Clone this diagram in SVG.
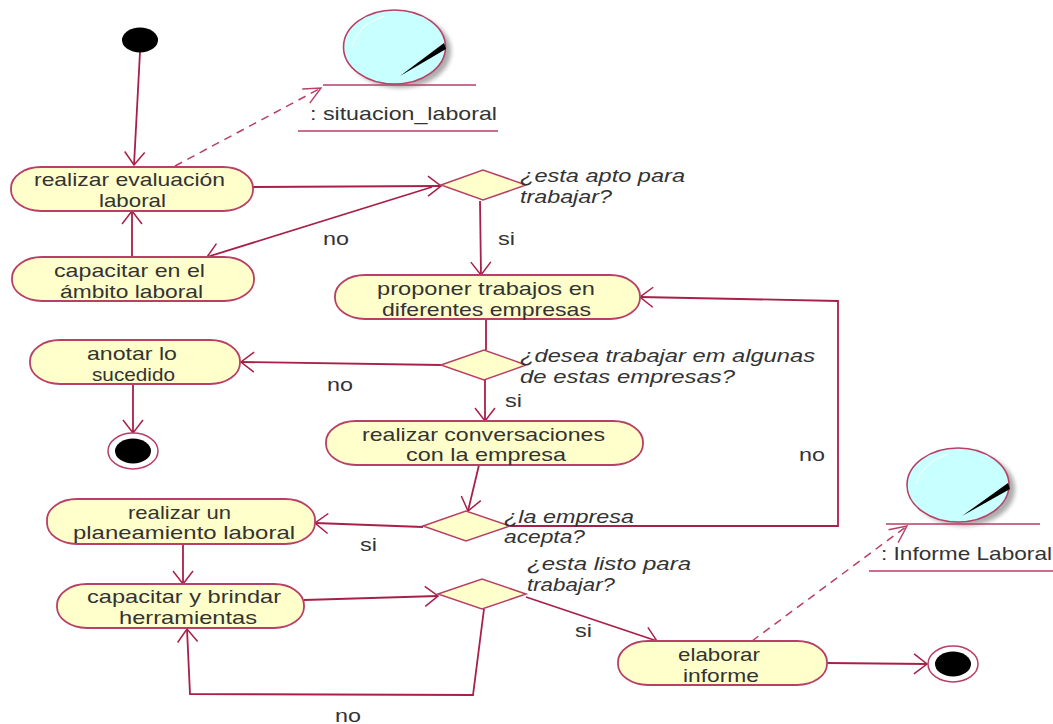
<svg xmlns="http://www.w3.org/2000/svg" width="1053" height="724" viewBox="0 0 1053 724">
<style>
.a{fill:#ffffcb;stroke:#b83f66;stroke-width:1.8}
.d{fill:#ffffcb;stroke:#b83f66;stroke-width:1.5}
.c{fill:none;stroke:#a82048;stroke-width:1.8}
.u{fill:none;stroke:#b83f66;stroke-width:1.6}
.dash{stroke-dasharray:8 6;stroke-width:1.5;stroke:#b83f66;fill:none}
text{font-family:"Liberation Sans",Arial,sans-serif;font-size:19px;fill:#333;text-anchor:start}
.q{font-style:italic}
</style>
<defs>
<marker id="arr" viewBox="-15 -11 16 22" refX="0" refY="0" markerWidth="16" markerHeight="22" markerUnits="userSpaceOnUse" orient="auto"><path d="M-13 -10L0 0L-13 10" fill="none" stroke="#a82048" stroke-width="1.5"/></marker>
<marker id="arrd" viewBox="-20 -10 21 20" refX="0" refY="0" markerWidth="21" markerHeight="20" markerUnits="userSpaceOnUse" orient="auto"><path d="M-17 -8L0 0L-17 8" fill="none" stroke="#b83f66" stroke-width="1.4"/></marker>
<filter id="s" x="-10%" y="-10%" width="125%" height="125%"><feGaussianBlur stdDeviation="2"/></filter>
</defs>
<g id="connectors">
<path class="c" d="M140 52L134 165" marker-end="url(#arr)"/>
<path class="dash" d="M175 166L321 88" marker-end="url(#arrd)"/>
<path class="c" d="M253 187L441 186" marker-end="url(#arr)"/>
<path class="c" d="M432 187L207 257" marker-end="url(#arr)"/>
<path class="c" d="M132 257V211" marker-end="url(#arr)"/>
<path class="c" d="M480 201L481 275" marker-end="url(#arr)"/>
<path class="c" d="M486 319V350"/>
<path class="c" d="M441 365L241 362" marker-end="url(#arr)"/>
<path class="c" d="M133 384V433" marker-end="url(#arr)"/>
<path class="c" d="M485 380V421" marker-end="url(#arr)"/>
<path class="c" d="M479 465L468 511" marker-end="url(#arr)"/>
<path class="c" d="M423 527L315 523" marker-end="url(#arr)"/>
<path class="c" d="M510 526H838V301L640 297" marker-end="url(#arr)"/>
<path class="c" d="M183 544V584" marker-end="url(#arr)"/>
<path class="c" d="M304 600L438 596" marker-end="url(#arr)"/>
<path class="c" d="M484 609L473 695L190 694L187 629" marker-end="url(#arr)"/>
<path class="c" d="M526 597L657 641" marker-end="url(#arr)"/>
<path class="c" d="M827 663L927 664" marker-end="url(#arr)"/>
<path class="dash" d="M752 641L907 526" marker-end="url(#arrd)"/>
</g>
<g id="start"><ellipse cx="140" cy="40" rx="18" ry="12.5" fill="#000"/></g>
<g id="situacion_laboral">
<ellipse cx="400" cy="51" rx="51" ry="37" fill="#8a8a8a" filter="url(#s)" opacity=".7"/>
<ellipse cx="394.5" cy="47" rx="51" ry="37" fill="#c8ffff" stroke="#b83f66" stroke-width="1.6"/>
<path d="M352 46Q358 24 384 16" fill="none" stroke="#fff" stroke-width="1"/>
<path d="M400 76L444 43L446 49Z" fill="#000"/>
<path d="M323 85H476M298 131H498" class="u"/>
<text x="310" y="120" textLength="187" lengthAdjust="spacingAndGlyphs">: situacion_laboral</text>
</g>
<g id="a1"><rect class="a" x="11" y="167" width="242" height="44" rx="30" ry="21"/><text x="34" y="186" textLength="191" lengthAdjust="spacingAndGlyphs">realizar evaluación</text><text x="99" y="207" textLength="67" lengthAdjust="spacingAndGlyphs">laboral</text></g>
<g id="a2"><rect class="a" x="12" y="257" width="242" height="44" rx="30" ry="21"/><text x="54" y="277" textLength="151" lengthAdjust="spacingAndGlyphs">capacitar en el</text><text x="60" y="298" textLength="143" lengthAdjust="spacingAndGlyphs">ámbito laboral</text></g>
<g id="a3"><rect class="a" x="335" y="275" width="305" height="44" rx="30" ry="21"/><text x="377" y="295" textLength="218" lengthAdjust="spacingAndGlyphs">proponer trabajos en</text><text x="382" y="316" textLength="209" lengthAdjust="spacingAndGlyphs">diferentes empresas</text></g>
<g id="a4"><rect class="a" x="30" y="340" width="210" height="44" rx="30" ry="21"/><text x="87" y="360" textLength="90" lengthAdjust="spacingAndGlyphs">anotar lo</text><text x="92" y="381" textLength="83" lengthAdjust="spacingAndGlyphs">sucedido</text></g>
<g id="a5"><rect class="a" x="326" y="421" width="317" height="44" rx="30" ry="21"/><text x="362" y="441" textLength="243" lengthAdjust="spacingAndGlyphs">realizar conversaciones</text><text x="406" y="461" textLength="160" lengthAdjust="spacingAndGlyphs">con la empresa</text></g>
<g id="a6"><rect class="a" x="47" y="499" width="268" height="45" rx="30" ry="21"/><text x="128" y="519" textLength="103" lengthAdjust="spacingAndGlyphs">realizar un</text><text x="73" y="539" textLength="222" lengthAdjust="spacingAndGlyphs">planeamiento laboral</text></g>
<g id="a7"><rect class="a" x="57" y="584" width="247" height="44" rx="30" ry="21"/><text x="87" y="603" textLength="194" lengthAdjust="spacingAndGlyphs">capacitar y brindar</text><text x="119" y="624" textLength="138" lengthAdjust="spacingAndGlyphs">herramientas</text></g>
<g id="a8"><rect class="a" x="618" y="641" width="209" height="44" rx="30" ry="21"/><text x="678" y="661" textLength="82" lengthAdjust="spacingAndGlyphs">elaborar</text><text x="683" y="682" textLength="76" lengthAdjust="spacingAndGlyphs">informe</text></g>
<g id="d1"><path class="d" d="M441 185L483 170L526 185L483 200Z"/><text class="q" x="520" y="182" textLength="165" lengthAdjust="spacingAndGlyphs">¿esta apto para</text><text class="q" x="520" y="203" textLength="92" lengthAdjust="spacingAndGlyphs">trabajar?</text></g>
<g id="d2"><path class="d" d="M441 365L484 350L526 365L484 380Z"/><text class="q" x="520" y="362" textLength="295" lengthAdjust="spacingAndGlyphs">¿desea trabajar em algunas</text><text class="q" x="520" y="383" textLength="215" lengthAdjust="spacingAndGlyphs">de estas empresas?</text></g>
<g id="d3"><path class="d" d="M423 526L466 511L510 526L466 541Z"/><text class="q" x="504" y="523" textLength="130" lengthAdjust="spacingAndGlyphs">¿la empresa</text><text class="q" x="504" y="543" textLength="81" lengthAdjust="spacingAndGlyphs">acepta?</text></g>
<g id="d4"><path class="d" d="M438 594L482 579L526 594L482 609Z"/><text class="q" x="527" y="570" textLength="164" lengthAdjust="spacingAndGlyphs">¿esta listo para</text><text class="q" x="527" y="591" textLength="88" lengthAdjust="spacingAndGlyphs">trabajar?</text></g>
<g id="end1"><ellipse cx="133" cy="451" rx="25" ry="18" fill="#fff" stroke="#b83f66" stroke-width="1.5"/><ellipse cx="133" cy="451" rx="18" ry="12.5" fill="#000"/></g>
<g id="end2"><ellipse cx="953" cy="664" rx="25" ry="18" fill="#fff" stroke="#b83f66" stroke-width="1.5"/><ellipse cx="953" cy="664" rx="18" ry="12.5" fill="#000"/></g>
<g id="informe_laboral">
<ellipse cx="964" cy="489" rx="51" ry="37" fill="#8a8a8a" filter="url(#s)" opacity=".7"/>
<ellipse cx="958" cy="485" rx="51" ry="37" fill="#c8ffff" stroke="#b83f66" stroke-width="1.6"/>
<path d="M916 484Q922 462 948 454" fill="none" stroke="#fff" stroke-width="1"/>
<path d="M962 516L1008 483L1010 489Z" fill="#000"/>
<path d="M886 524H1040M869 571H1053" class="u"/>
<text x="881" y="560" textLength="171" lengthAdjust="spacingAndGlyphs">: Informe Laboral</text>
</g>
<g id="labels">
<text x="323" y="245" textLength="26" lengthAdjust="spacingAndGlyphs">no</text><text x="498" y="245" textLength="17" lengthAdjust="spacingAndGlyphs">si</text>
<text x="327" y="391" textLength="26" lengthAdjust="spacingAndGlyphs">no</text><text x="505" y="407" textLength="17" lengthAdjust="spacingAndGlyphs">si</text>
<text x="799" y="461" textLength="26" lengthAdjust="spacingAndGlyphs">no</text><text x="360" y="551" textLength="17" lengthAdjust="spacingAndGlyphs">si</text>
<text x="575" y="637" textLength="17" lengthAdjust="spacingAndGlyphs">si</text><text x="335" y="722" textLength="26" lengthAdjust="spacingAndGlyphs">no</text>
</g>
</svg>
